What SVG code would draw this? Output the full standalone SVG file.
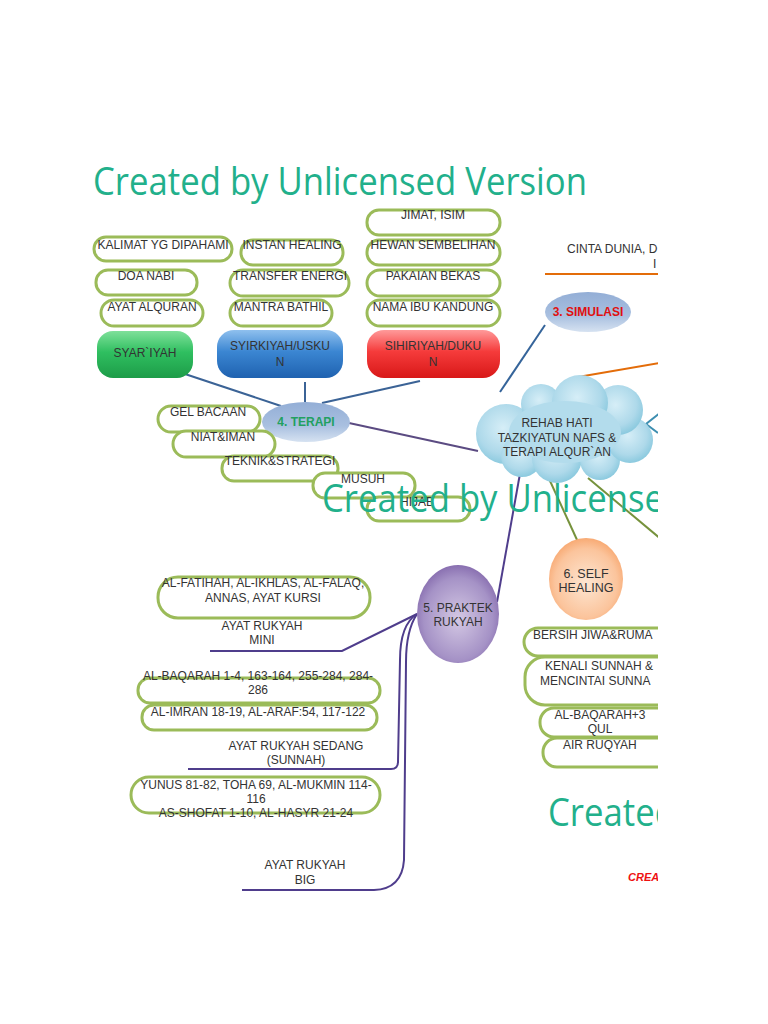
<svg xmlns="http://www.w3.org/2000/svg" width="768" height="1024" viewBox="0 0 768 1024">
<defs>
<clipPath id="page"><rect x="0" y="0" width="658" height="1024"/></clipPath>
<linearGradient id="gGreen" x1="0" y1="0" x2="0" y2="1"><stop offset="0" stop-color="#7fe09a"/><stop offset="0.45" stop-color="#2fbf60"/><stop offset="1" stop-color="#1d9c48"/></linearGradient>
<linearGradient id="gBlue" x1="0" y1="0" x2="0" y2="1"><stop offset="0" stop-color="#8fc0ee"/><stop offset="0.45" stop-color="#3b86d2"/><stop offset="1" stop-color="#1f62b0"/></linearGradient>
<linearGradient id="gRed" x1="0" y1="0" x2="0" y2="1"><stop offset="0" stop-color="#ff9a9a"/><stop offset="0.45" stop-color="#f53b3b"/><stop offset="1" stop-color="#d81818"/></linearGradient>
<linearGradient id="gEll" x1="0" y1="0" x2="0" y2="1"><stop offset="0" stop-color="#93aed6"/><stop offset="0.6" stop-color="#a9c0e0"/><stop offset="1" stop-color="#d6e2f1"/></linearGradient>
<radialGradient id="gPurple" cx="0.5" cy="0.55" r="0.6"><stop offset="0" stop-color="#d4c8e4"/><stop offset="0.7" stop-color="#a592c6"/><stop offset="1" stop-color="#7e62a8"/></radialGradient>
<radialGradient id="gPeach" cx="0.5" cy="0.55" r="0.6"><stop offset="0" stop-color="#fde6d2"/><stop offset="0.7" stop-color="#fbc49c"/><stop offset="1" stop-color="#f7a064"/></radialGradient>
<radialGradient id="gCloud" cx="0.45" cy="0.4" r="0.6"><stop offset="0" stop-color="#d6eef7"/><stop offset="0.7" stop-color="#aed9ea"/><stop offset="1" stop-color="#8ccadf"/></radialGradient>
<style>
.pill{fill:#ffffff;stroke:#9bbb59;stroke-width:3}
.t{font-family:"Liberation Sans",Arial,sans-serif;font-size:12px;fill:#333333;text-anchor:middle}
.ts{font-family:"Liberation Sans",Arial,sans-serif;font-size:12px;fill:#333333}
.tb{font-family:"Liberation Sans",Arial,sans-serif;font-size:12px;font-weight:bold;text-anchor:middle}
.wm{font-family:"Open Sans","Liberation Sans",sans-serif;font-size:38px;fill:#22b08b}
.ln{fill:none;stroke-width:2}
</style>
</defs>
<rect width="768" height="1024" fill="#ffffff"/>
<g clip-path="url(#page)">
<g id="connectors">
<path class="ln" stroke="#3b6396" d="M185,374 L281,406"/>
<path class="ln" stroke="#3b6396" d="M305,382 L305,402"/>
<path class="ln" stroke="#3b6396" d="M420,381 L322,403"/>
<path class="ln" stroke="#35649a" d="M545,325 L500,392"/>
<path class="ln" stroke="#5b4b82" d="M349,423 L478,451"/>
<path class="ln" stroke="#4f3d8c" d="M521,468 L497,602"/>
<path class="ln" stroke="#76923c" d="M545,470 L578,542"/>
<path class="ln" stroke="#76923c" d="M588,478 L662,540"/>
<path class="ln" stroke="#e36c09" d="M578,377 L660,363"/>
<path class="ln" stroke="#e36c09" d="M545,274 L660,274"/>
<path class="ln" stroke="#3d8eb0" d="M660,413 L646,424 L658,433"/>
<path class="ln" stroke="#4f3d8c" d="M210,651 L342,651 L417,614"/>
<path class="ln" stroke="#4f3d8c" d="M417,614 C404,622 400,640 400,660 L398,762 Q398,769 391,769 L188,769"/>
<path class="ln" stroke="#4f3d8c" d="M417,614 C409,626 406,642 406,662 L404,860 Q402,889 374,890 L242,890"/>
</g>
<g id="n-kalimat"><rect class="pill" x="94" y="237" width="138" height="24" rx="12"/><text class="t" x="163" y="249">KALIMAT YG DIPAHAMI</text></g>
<g id="n-doa"><rect class="pill" x="96" y="270" width="101" height="25" rx="12"/><text class="t" x="146" y="280">DOA NABI</text></g>
<g id="n-ayat"><rect class="pill" x="101" y="300" width="102" height="26" rx="13"/><text class="t" x="152" y="311">AYAT ALQURAN</text></g>
<g id="n-instan"><rect class="pill" x="241" y="240" width="102" height="25" rx="12"/><text class="t" x="292" y="249">INSTAN HEALING</text></g>
<g id="n-transfer"><rect class="pill" x="230" y="270" width="119" height="26" rx="13"/><text class="t" x="290" y="280">TRANSFER ENERGI</text></g>
<g id="n-mantra"><rect class="pill" x="230" y="300" width="102" height="26" rx="13"/><text class="t" x="281" y="311">MANTRA BATHIL</text></g>
<g id="n-jimat"><rect class="pill" x="367" y="210" width="133" height="25" rx="12"/><text class="t" x="433" y="219">JIMAT, ISIM</text></g>
<g id="n-hewan"><rect class="pill" x="367" y="240" width="133" height="25" rx="12"/><text class="t" x="433" y="249">HEWAN SEMBELIHAN</text></g>
<g id="n-pakaian"><rect class="pill" x="367" y="270" width="133" height="26" rx="13"/><text class="t" x="433" y="280">PAKAIAN BEKAS</text></g>
<g id="n-nama"><rect class="pill" x="367" y="300" width="133" height="26" rx="13"/><text class="t" x="433" y="311">NAMA IBU KANDUNG</text></g>
<g id="n-cinta"><text class="ts" x="567" y="253">CINTA DUNIA, D</text><text class="ts" x="653" y="268">I</text></g>
<g id="n-simulasi"><ellipse cx="588" cy="312" rx="43" ry="20" fill="url(#gEll)"/><text class="tb" x="588" y="316" fill="#e01010">3. SIMULASI</text></g>
<g id="n-syar"><rect x="97" y="331" width="96" height="47" rx="16" fill="url(#gGreen)"/><text class="t" x="145" y="357" fill="#1a331a">SYAR`IYAH</text></g>
<g id="n-syirk"><rect x="217" y="330" width="126" height="48" rx="17" fill="url(#gBlue)"/><text class="t" x="280" y="350" fill="#102040">SYIRKIYAH/USKU</text><text class="t" x="280" y="366" fill="#102040">N</text></g>
<g id="n-sihir"><rect x="367" y="330" width="133" height="48" rx="17" fill="url(#gRed)"/><text class="t" x="433" y="350" fill="#3a0a0a">SIHIRIYAH/DUKU</text><text class="t" x="433" y="366" fill="#3a0a0a">N</text></g>
<g id="n-terapi"><ellipse cx="306" cy="422" rx="44" ry="20" fill="url(#gEll)"/><text class="tb" x="306" y="426" fill="#22a060">4. TERAPI</text></g>
<g id="n-gel"><rect class="pill" x="158" y="406" width="102" height="26" rx="13"/><text class="t" x="208" y="416">GEL BACAAN</text></g>
<g id="n-niat"><rect class="pill" x="173" y="431" width="102" height="26" rx="13"/><text class="t" x="223" y="441">NIAT&amp;IMAN</text></g>
<g id="n-teknik"><rect class="pill" x="222" y="456" width="116" height="25" rx="12"/><text class="t" x="280" y="465">TEKNIK&amp;STRATEGI</text></g>
<g id="n-musuh"><rect class="pill" x="313" y="473" width="102" height="25" rx="12"/><text class="t" x="363" y="483">MUSUH</text></g>
<g id="n-hijab"><rect class="pill" x="367" y="497" width="103" height="24" rx="12"/><text class="t" x="417" y="506">HIJAB</text></g>
<g id="n-rehab">
<circle cx="506" cy="434" r="30" fill="url(#gCloud)"/>
<circle cx="522" cy="456" r="21" fill="url(#gCloud)"/>
<circle cx="557" cy="458" r="25" fill="url(#gCloud)"/>
<circle cx="600" cy="460" r="20" fill="url(#gCloud)"/>
<circle cx="630" cy="440" r="23" fill="url(#gCloud)"/>
<circle cx="618" cy="410" r="25" fill="url(#gCloud)"/>
<circle cx="541" cy="404" r="20" fill="url(#gCloud)"/>
<circle cx="580" cy="403" r="28" fill="url(#gCloud)"/>
<ellipse cx="565" cy="432" rx="56" ry="31" fill="#b3dcec"/>
<text class="t" x="557" y="427">REHAB HATI</text>
<text class="t" x="557" y="442">TAZKIYATUN NAFS &amp;</text>
<text class="t" x="557" y="456">TERAPI ALQUR`AN</text>
</g>
<g id="n-self"><ellipse cx="586" cy="579" rx="37" ry="41" fill="url(#gPeach)"/><text class="t" x="586" y="578" fill="#e03030" style="font-size:12.5px">6. SELF</text><text class="t" x="586" y="592" fill="#e03030" style="font-size:12.5px">HEALING</text></g>
<g id="n-bersih"><rect class="pill" x="524" y="628" width="160" height="28" rx="14"/><text class="ts" x="533" y="639">BERSIH JIWA&amp;RUMA</text></g>
<g id="n-kenali"><rect class="pill" x="525" y="657" width="160" height="48" rx="20"/><text class="ts" x="545" y="670">KENALI SUNNAH &amp;</text><text class="ts" x="540" y="685">MENCINTAI SUNNA</text></g>
<g id="n-baqarah3"><rect class="pill" x="540" y="708" width="140" height="29" rx="14"/><text class="t" x="600" y="719">AL-BAQARAH+3</text><text class="t" x="600" y="733">QUL</text></g>
<g id="n-air"><rect class="pill" x="543" y="738" width="140" height="29" rx="14"/><text class="ts" x="563" y="749">AIR RUQYAH</text></g>
<g id="n-praktek"><ellipse cx="458" cy="614" rx="41" ry="49" fill="url(#gPurple)"/><text class="t" x="458" y="612">5. PRAKTEK</text><text class="t" x="458" y="626">RUKYAH</text></g>
<g id="n-fatihah"><rect class="pill" x="158" y="577" width="212" height="41" rx="20"/><text class="t" x="263" y="587">AL-FATIHAH, AL-IKHLAS, AL-FALAQ,</text><text class="t" x="263" y="602">ANNAS, AYAT KURSI</text></g>
<g id="n-mini"><text class="t" x="262" y="630">AYAT RUKYAH</text><text class="t" x="262" y="644">MINI</text></g>
<g id="n-baqarah"><rect class="pill" x="138" y="678" width="242" height="25" rx="12"/><text class="t" x="258" y="680">AL-BAQARAH 1-4, 163-164, 255-284, 284-</text><text class="t" x="258" y="694">286</text></g>
<g id="n-imran"><rect class="pill" x="142" y="705" width="235" height="25" rx="12"/><text class="t" x="258" y="716">AL-IMRAN 18-19, AL-ARAF:54, 117-122</text></g>
<g id="n-sedang"><text class="t" x="296" y="750">AYAT RUKYAH SEDANG</text><text class="t" x="296" y="764">(SUNNAH)</text></g>
<g id="n-yunus"><rect class="pill" x="131" y="777" width="249" height="36" rx="18"/><text class="t" x="256" y="789">YUNUS 81-82, TOHA 69, AL-MUKMIN 114-</text><text class="t" x="256" y="803">116</text><text class="t" x="256" y="817">AS-SHOFAT 1-10, AL-HASYR 21-24</text></g>
<g id="n-big"><text class="t" x="305" y="869">AYAT RUKYAH</text><text class="t" x="305" y="884">BIG</text></g>
<g id="watermarks">
<text class="wm" x="93" y="195" textLength="494" lengthAdjust="spacingAndGlyphs">Created by Unlicensed Version</text>
<text class="wm" x="322" y="512" textLength="494" lengthAdjust="spacingAndGlyphs">Created by Unlicensed Version</text>
<text class="wm" x="548" y="826" textLength="494" lengthAdjust="spacingAndGlyphs">Created by Unlicensed Version</text>
<text x="628" y="881" style="font-family:'Liberation Sans',Arial,sans-serif;font-size:11px;font-weight:bold;font-style:italic;fill:#ee1111">CREA</text>
</g>
</g>
</svg>
